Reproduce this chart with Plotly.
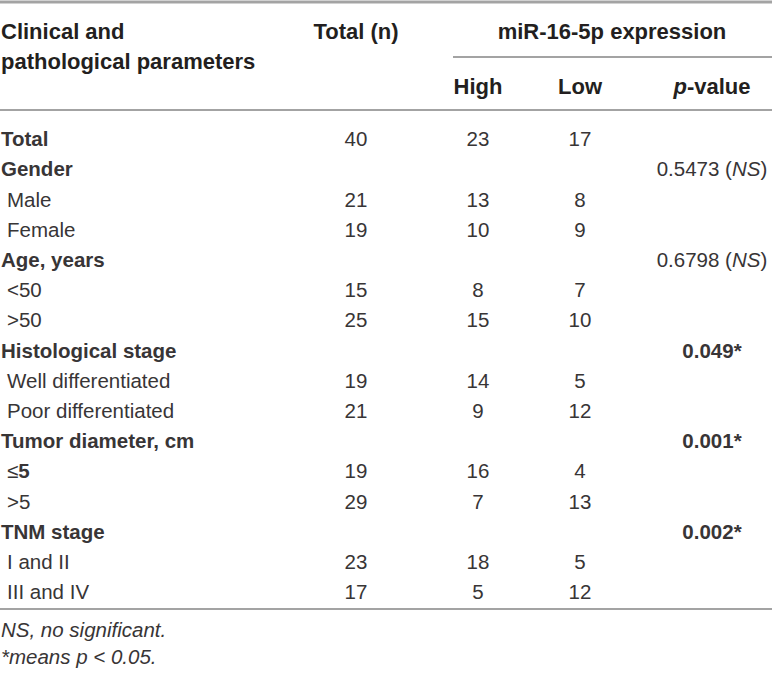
import plotly.graph_objects as go

# table content
row_labels = ["Total", "Gender", "Male", "Female", "Age, years", "<50", ">50",
              "Histological stage", "Well differentiated", "Poor differentiated",
              "Tumor diameter, cm", "≤5", ">5", "TNM stage", "I and II", "III and IV"]
group_rows = ["Total", "Gender", "Age, years", "Histological stage",
              "Tumor diameter, cm", "TNM stage"]
total_n = [40, None, 21, 19, None, 15, 25, None, 19, 21, None, 19, 29, None, 23, 17]
high = [23, None, 13, 10, None, 8, 15, None, 14, 9, None, 16, 7, None, 18, 5]
low = [17, None, 8, 9, None, 7, 10, None, 5, 12, None, 4, 13, None, 5, 12]
p_values = ["", "0.5473 (NS)", "", "", "0.6798 (NS)", "", "", "0.049*", "", "",
            "0.001*", "", "", "0.002*", "", ""]
footnotes = ["NS, no significant.", "*means p < 0.05."]

# layout constants (pixels across, rows down)
W, H = 772, 677
ROW0, ROWH = 141, 30.2
X_TOTAL, X_HIGH, X_LOW, X_P = 356, 478, 580, 712
INK = "#231f20"
INK_LIGHT = "#383536"
RULE = "#a3a3a3"
FONT = "Liberation Sans, Arial, sans-serif"


def ry(px):
    # pixel height -> row units
    return (px - ROW0) / ROWH


def esc(s):
    return s.replace("<", "&lt;").replace(">", "&gt;")


rows = list(range(len(row_labels)))

lab_txt = []
for lab in row_labels:
    if lab in group_rows:
        lab_txt.append("<b>" + esc(lab) + "</b>")
    elif lab == "≤5":
        lab_txt.append("≤<b>5</b>")
    else:
        lab_txt.append(esc(lab))
lab_x = [1 if lab in group_rows else 7 for lab in row_labels]

p_txt = []
for p in p_values:
    if "*" in p:
        p_txt.append("<b>" + p + "</b>")
    else:
        p_txt.append(p.replace("NS", "<i>NS</i>"))

fig = go.Figure()

body_font = dict(family=FONT, size=20.5, color=INK_LIGHT)

fig.add_trace(go.Scatter(x=lab_x, y=rows, text=lab_txt, mode="text",
                         textposition="middle right", textfont=body_font))

for xc, vals in [(X_TOTAL, total_n), (X_HIGH, high), (X_LOW, low)]:
    fig.add_trace(go.Scatter(x=[xc] * len(vals), y=rows,
                             text=["" if v is None else str(v) for v in vals],
                             mode="text", textposition="middle center",
                             textfont=body_font))

fig.add_trace(go.Scatter(x=[X_P] * len(p_txt), y=rows, text=p_txt, mode="text",
                         textposition="middle center", textfont=body_font))

# header
hdr_font = dict(family=FONT, size=22, color=INK)
fig.add_trace(go.Scatter(x=[1, 1], y=[ry(33), ry(63)],
                         text=["<b>Clinical and</b>", "<b>pathological parameters</b>"],
                         mode="text", textposition="middle right", textfont=hdr_font))
fig.add_trace(go.Scatter(x=[X_TOTAL, 612, X_HIGH, X_LOW, X_P],
                         y=[ry(33), ry(33), ry(88), ry(88), ry(88)],
                         text=["<b>Total (n)</b>", "<b>miR-16-5p expression</b>",
                               "<b>High</b>", "<b>Low</b>", "<b><i>p</i>-value</b>"],
                         mode="text", textposition="middle center", textfont=hdr_font))

# footnotes
fig.add_trace(go.Scatter(x=[1, 1], y=[ry(632), ry(659)],
                         text=["<i>" + esc(f) + "</i>" for f in footnotes],
                         mode="text", textposition="middle right",
                         textfont=dict(family=FONT, size=20.5, color=INK_LIGHT)))

fig.update_traces(showlegend=False, hoverinfo="skip", cliponaxis=False)

# rules
for x0, py, w in [(0, 2, 3), (453, 57, 2), (0, 110, 2), (0, 609, 2)]:
    fig.add_shape(type="line", xref="x", yref="y", x0=x0, x1=W, y0=ry(py), y1=ry(py),
                  line=dict(color=RULE, width=w))

fig.update_layout(
    width=W, height=H,
    margin=dict(l=0, r=0, t=0, b=0),
    paper_bgcolor="white", plot_bgcolor="white",
    xaxis=dict(range=[0, W], visible=False, fixedrange=True),
    yaxis=dict(range=[ry(H), ry(0)], visible=False, fixedrange=True),
)

# drop the default page margin so the figure sits at the window's corner
fig.write_html("out.html", config={"displayModeBar": False},
               post_script="document.body.style.margin='0';")
